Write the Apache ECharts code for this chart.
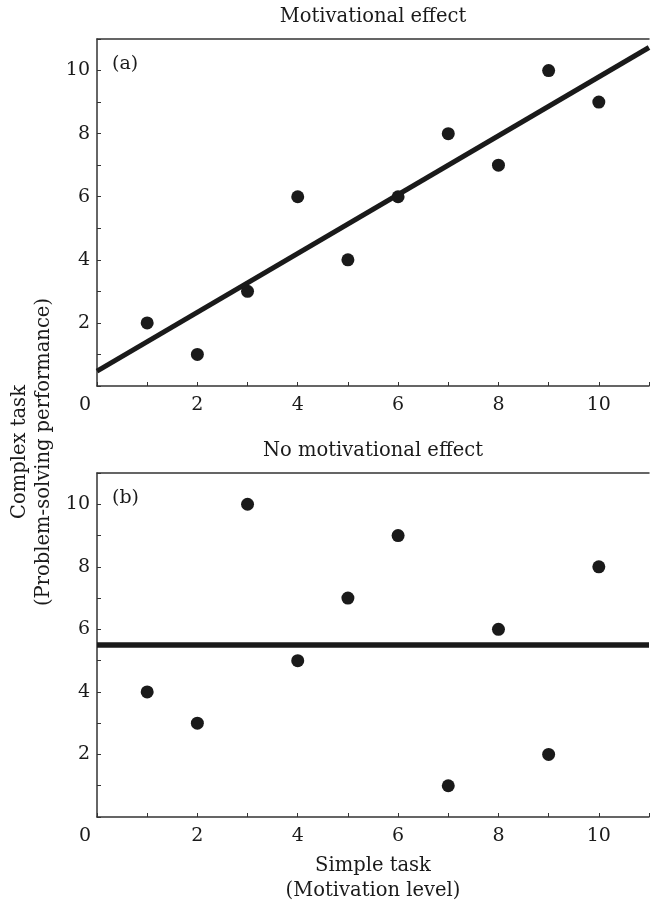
<!DOCTYPE html>
<html>
<head>
<meta charset="utf-8">
<script src="https://cdn.jsdelivr.net/npm/echarts@6/dist/echarts.min.js"></script>
<style>
  html, body { margin: 0; padding: 0; background: #fff; }
  #main { width: 652px; height: 904px; }
</style>
</head>
<body>
<div id="main"></div>
<script>
// 数据
var simpleA = [1, 2, 3, 4, 5, 6, 7, 8, 9, 10];
var complexA = [2, 1, 3, 6, 4, 6, 8, 7, 10, 9];
var simpleB = [1, 2, 3, 4, 5, 6, 7, 8, 9, 10];
var complexB = [4, 3, 10, 5, 7, 9, 1, 6, 2, 8];
// 拟合线的两个端点
var fitA = [[0, 0.47], [11, 10.73]];
var fitB = [[0, 5.5], [11, 5.5]];

var FONT = 'DejaVu Serif';
var INK = '#1a1a1a';
var AXIS = '#333';

function pairs(xs, ys) {
	var out = [];
	for (var i = 0; i < xs.length; i++) {
		out.push([xs[i], ys[i]]);
	}
	return out;
}

function bottomAxis(grid, name) {
	return {
		type : 'value',
		gridIndex : grid,
		min : 0,
		max : 11,
		interval : 1,
		name : name || '',
		nameLocation : 'middle',
		nameGap : 36,
		nameTextStyle : { fontFamily : FONT, fontSize : 19.5, color : INK, lineHeight : 25 },
		axisLine : { lineStyle : { color : AXIS, width : 1.5 } },
		axisTick : { inside : true, length : 4, lineStyle : { color : AXIS, width : 1 } },
		splitLine : { show : false },
		axisLabel : {
			margin : 10,
			fontFamily : FONT,
			fontSize : 19,
			color : INK,
			formatter : function(v) {
				if (v === 0) return '{z|0}';
				return v % 2 === 0 ? String(v) : '';
			},
			rich : {
				z : { fontFamily : FONT, fontSize : 19, color : INK, padding : [0, 24, 0, 0] }
			}
		}
	};
}

function topAxis(grid, name) {
	return {
		type : 'value',
		gridIndex : grid,
		position : 'top',
		min : 0,
		max : 11,
		name : name,
		nameLocation : 'middle',
		nameGap : 12,
		nameTextStyle : { fontFamily : FONT, fontSize : 19.5, color : INK },
		axisLine : { lineStyle : { color : AXIS, width : 1.5 } },
		axisTick : { show : false },
		axisLabel : { show : false },
		splitLine : { show : false }
	};
}

function leftAxis(grid) {
	return {
		type : 'value',
		gridIndex : grid,
		min : 0,
		max : 11,
		interval : 1,
		axisLine : { lineStyle : { color : AXIS, width : 1.5 } },
		axisTick : { inside : true, length : 4, lineStyle : { color : AXIS, width : 1 } },
		splitLine : { show : false },
		axisLabel : {
			margin : 7,
			fontFamily : FONT,
			fontSize : 19,
			color : INK,
			formatter : function(v) {
				return (v !== 0 && v % 2 === 0) ? String(v) : '';
			}
		}
	};
}

function dots(xi, yi, data) {
	return {
		type : 'scatter',
		xAxisIndex : xi,
		yAxisIndex : yi,
		symbolSize : 13,
		itemStyle : { color : INK, opacity : 1 },
		data : data,
		z : 3
	};
}

function fit(xi, yi, data, w) {
	return {
		type : 'line',
		xAxisIndex : xi,
		yAxisIndex : yi,
		symbol : 'none',
		lineStyle : { color : INK, width : w },
		data : data,
		z : 2
	};
}

var chart = echarts.init(document.getElementById('main'));
var option = {
	animation : false,
	backgroundColor : '#fff',
	grid : [
		{ left : 97, top : 39, right : -1, height : 347 },
		{ left : 97, top : 473, right : -1, height : 347 }
	],
	xAxis : [
		bottomAxis(0),
		topAxis(0, 'Motivational effect'),
		bottomAxis(1, 'Simple task\n(Motivation level)'),
		topAxis(1, 'No motivational effect')
	],
	yAxis : [ leftAxis(0), leftAxis(1) ],
	graphic : [
		{ type : 'text', left : 112, top : 55, style : { text : '(a)', fontFamily : FONT, fontSize : 19, fill : INK } },
		{ type : 'text', left : 112, top : 489, style : { text : '(b)', fontFamily : FONT, fontSize : 19, fill : INK } },
		{ type : 'text', x : 20, y : 452, rotation : Math.PI / 2,
			style : { text : 'Complex task', fontFamily : FONT, fontSize : 19.5, fill : INK, align : 'center', verticalAlign : 'middle' } },
		{ type : 'text', x : 44, y : 452, rotation : Math.PI / 2,
			style : { text : '(Problem-solving performance)', fontFamily : FONT, fontSize : 19.5, fill : INK, align : 'center', verticalAlign : 'middle' } }
	],
	series : [
		fit(0, 0, fitA, 5),
		dots(0, 0, pairs(simpleA, complexA)),
		fit(2, 1, fitB, 5.5),
		dots(2, 1, pairs(simpleB, complexB))
	]
};
chart.setOption(option);
</script>
</body>
</html>
